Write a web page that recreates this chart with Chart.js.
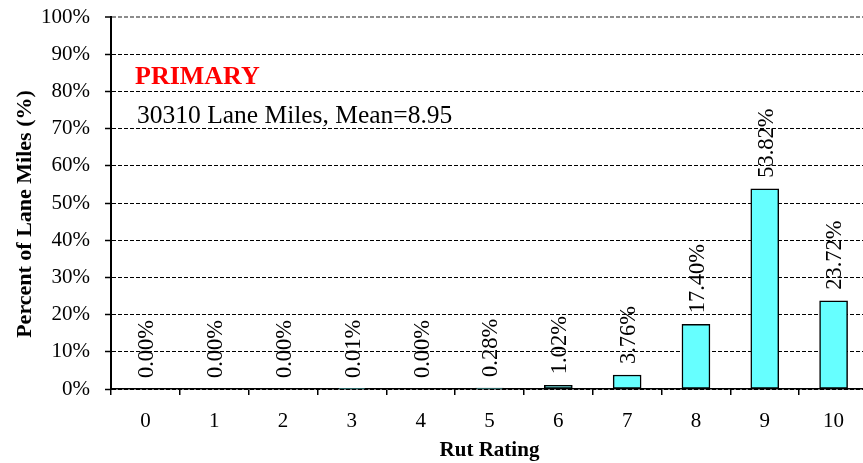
<!DOCTYPE html>
<html>
<head>
<meta charset="utf-8">
<script src="https://cdn.jsdelivr.net/npm/chart.js@4.4.1/dist/chart.umd.min.js"></script>
<style>
  html, body { margin: 0; padding: 0; background: #fff; overflow: hidden; }
  #wrap { width: 868px; height: 463px; position: relative; }
</style>
</head>
<body>
<div id="wrap"><canvas id="c" width="868" height="463"></canvas></div>
<script>
// ---- data ----
const categories = ['0', '1', '2', '3', '4', '5', '6', '7', '8', '9', '10'];
const percentValues = [0.00, 0.00, 0.00, 0.01, 0.00, 0.28, 1.02, 3.76, 17.40, 53.82, 23.72];
const yTickValues = [0, 10, 20, 30, 40, 50, 60, 70, 80, 90, 100];
const titleText = 'PRIMARY';
const subtitleText = '30310 Lane Miles, Mean=8.95';
const xAxisTitle = 'Rut Rating';
const yAxisTitle = 'Percent of Lane Miles (%)';

const SERIF = "'Liberation Serif', 'Times New Roman', serif";

const overlayPlugin = {
  id: 'overlay',
  afterDatasetsDraw(chart) {
    const ctx = chart.ctx;
    const meta = chart.getDatasetMeta(0);
    // data labels, rotated
    ctx.save();
    ctx.fillStyle = '#000';
    ctx.font = '22.5px ' + SERIF;
    ctx.textAlign = 'left';
    ctx.textBaseline = 'middle';
    meta.data.forEach((bar, i) => {
      const v = chart.data.datasets[0].data[i];
      const label = v.toFixed(2) + '%';
      ctx.save();
      ctx.translate(bar.x + 2, bar.y - 11);
      ctx.rotate(-Math.PI / 2);
      ctx.fillText(label, 0, 0);
      ctx.restore();
    });
    ctx.restore();

    // annotations
    ctx.save();
    ctx.textAlign = 'left';
    ctx.textBaseline = 'alphabetic';
    ctx.fillStyle = '#ff0000';
    ctx.font = 'bold 26px ' + SERIF;
    ctx.fillText(titleText, 135, 84);
    ctx.fillStyle = '#000';
    ctx.font = '25.5px ' + SERIF;
    ctx.fillText(subtitleText, 137, 123);
    ctx.restore();

    // y-axis title
    ctx.save();
    ctx.fillStyle = '#000';
    ctx.font = 'bold 22px ' + SERIF;
    ctx.textAlign = 'center';
    ctx.textBaseline = 'middle';
    ctx.translate(25, 214);
    ctx.rotate(-Math.PI / 2);
    ctx.fillText(yAxisTitle, 0, 0);
    ctx.restore();
  }
};

new Chart(document.getElementById('c'), {
  type: 'bar',
  data: {
    labels: categories,
    datasets: [{
      data: percentValues,
      backgroundColor: '#66FFFF',
      borderColor: '#000000',
      borderWidth: 1.5,
      borderSkipped: false,
      barThickness: 28
    }]
  },
  options: {
    responsive: false,
    animation: false,
    devicePixelRatio: 1,
    layout: { padding: { top: 17, left: 0, right: 0, bottom: 0 } },
    plugins: {
      legend: { display: false },
      tooltip: { enabled: false },
      title: { display: false }
    },
    scales: {
      x: {
        type: 'category',
        offset: true,
        grid: {
          display: true,
          offset: true,
          drawOnChartArea: false,
          color: '#000',
          tickColor: '#000',
          tickLength: 6,
          lineWidth: 1.5
        },
        border: { display: true, color: '#000', width: 1.5 },
        ticks: {
          color: '#000',
          font: { family: SERIF, size: 21 },
          padding: 14,
          maxRotation: 0,
          autoSkip: false
        },
        title: {
          display: true,
          text: xAxisTitle,
          color: '#000',
          font: { family: SERIF, size: 21, weight: 'bold' },
          padding: { top: 0, bottom: 0 }
        },
        afterFit(scale) {
          scale.height = 74;
          scale.paddingLeft = 0;
          scale.paddingRight = 0;
        }
      },
      y: {
        min: 0,
        max: 100,
        afterBuildTicks(scale) { scale.ticks = yTickValues.map(v => ({ value: v })); },
        grid: {
          color: (c) => (c.tick && c.tick.value === 100) ? '#8c8c8c' : '#000',
          lineWidth: (c) => (c.tick && c.tick.value === 100) ? 2 : 1,
          tickColor: '#000',
          tickLength: 6,
          tickWidth: 1.5,
          tickBorderDash: []
        },
        border: { display: true, color: '#000', width: 2, dash: [4, 2] },
        ticks: {
          color: '#000',
          font: { family: SERIF, size: 21 },
          padding: 15,
          callback: (v) => v + '%'
        },
        title: { display: false, text: yAxisTitle },
        afterFit(scale) {
          scale.width = 111;
          scale.paddingTop = 0;
          scale.paddingBottom = 0;
        }
      }
    }
  },
  plugins: [overlayPlugin]
});
</script>
</body>
</html>
